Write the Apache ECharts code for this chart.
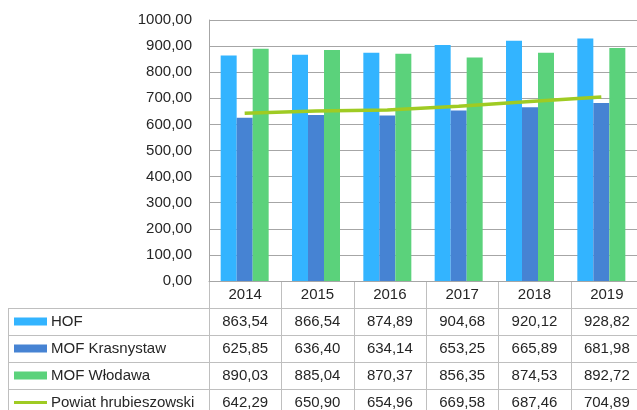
<!DOCTYPE html>
<html>
<head>
<meta charset="utf-8">
<script src="https://cdn.jsdelivr.net/npm/echarts@6/dist/echarts.min.js"></script>
<style>
  html, body { margin: 0; padding: 0; background: #fff; }
  #chart { width: 637px; height: 410px; }
</style>
</head>
<body>
<div id="chart"></div>
<script>
var years = ["2014", "2015", "2016", "2017", "2018", "2019"];
var hof = [863.54, 866.54, 874.89, 904.68, 920.12, 928.82];
var krasnystaw = [625.85, 636.40, 634.14, 653.25, 665.89, 681.98];
var wlodawa = [890.03, 885.04, 870.37, 856.35, 874.53, 892.72];
var powiat = [642.29, 650.90, 654.96, 669.58, 687.46, 704.89];
var seriesNames = ["HOF", "MOF Krasnystaw", "MOF Włodawa", "Powiat hrubieszowski"];
var colors = ["#33b4ff", "#4683d3", "#5bd27b", "#9fcb23"];

var fmt = function (v) { return v.toFixed(2).replace(".", ","); };
var font = "Liberation Sans, Arial, sans-serif";

// uklad wykresu i tabeli
var gLeft = 209, gTop = 20, gWidth = 434, gHeight = 261;
var colW = gWidth / years.length;
var rowH = 27;
var tableTop = gTop + gHeight;
var lineColor = "#bfbfbf";

var graphics = [];
// naglowek z latami
years.forEach(function (y, i) {
  graphics.push({
    type: "text", x: gLeft + colW * (i + 0.5), y: tableTop + rowH / 2,
    style: { text: y, font: "15px " + font, fill: "#262626", align: "center", verticalAlign: "middle" }
  });
});
var rows = [hof, krasnystaw, wlodawa, powiat];
rows.forEach(function (data, r) {
  var cy = tableTop + rowH * (r + 1) + rowH / 2;
  // klucz legendy
  if (r < 3) {
    graphics.push({ type: "rect", shape: { x: 14, y: cy - 4, width: 33, height: 8 }, style: { fill: colors[r] } });
  } else {
    graphics.push({ type: "line", shape: { x1: 14, y1: cy, x2: 47, y2: cy }, style: { stroke: colors[r], lineWidth: 3 } });
  }
  graphics.push({
    type: "text", x: 51, y: cy,
    style: { text: seriesNames[r], font: "15px " + font, fill: "#262626", verticalAlign: "middle" }
  });
  data.forEach(function (v, i) {
    graphics.push({
      type: "text", x: gLeft + colW * (i + 0.5), y: cy,
      style: { text: fmt(v), font: "15px " + font, fill: "#262626", align: "center", verticalAlign: "middle" }
    });
  });
});
// linie tabeli
for (var r = 1; r <= 5; r++) {
  var yy = tableTop + rowH * r + 0.5;
  graphics.push({ type: "line", shape: { x1: 8, y1: yy, x2: 640, y2: yy }, style: { stroke: lineColor, lineWidth: 1 } });
}
graphics.push({ type: "line", shape: { x1: 8.5, y1: tableTop + rowH, x2: 8.5, y2: 420 }, style: { stroke: lineColor, lineWidth: 1 } });
for (var c = 0; c <= years.length; c++) {
  var xx = Math.round(gLeft + colW * c) + 0.5;
  graphics.push({ type: "line", shape: { x1: xx, y1: tableTop, x2: xx, y2: 420 }, style: { stroke: lineColor, lineWidth: 1 } });
}

var chart = echarts.init(document.getElementById("chart"));
chart.setOption({
  animation: false,
  backgroundColor: "#fff",
  grid: { left: gLeft, top: gTop, width: gWidth, height: gHeight },
  xAxis: {
    type: "category",
    data: years,
    axisLine: { lineStyle: { color: "#a6a6a6" } },
    axisTick: { show: false },
    axisLabel: { show: false }
  },
  yAxis: {
    type: "value",
    min: 0, max: 1000, interval: 100,
    axisLine: { show: true, lineStyle: { color: "#a6a6a6" } },
    axisLabel: { formatter: fmt, fontSize: 15, fontFamily: font, color: "#262626", margin: 17 },
    splitLine: { lineStyle: { color: "#a6a6a6" } }
  },
  series: [
    { name: seriesNames[0], type: "bar", data: hof, barWidth: 16, barGap: "0%", itemStyle: { color: colors[0] } },
    { name: seriesNames[1], type: "bar", data: krasnystaw, barWidth: 16, barGap: "0%", itemStyle: { color: colors[1] } },
    { name: seriesNames[2], type: "bar", data: wlodawa, barWidth: 16, barGap: "0%", itemStyle: { color: colors[2] } },
    { name: seriesNames[3], type: "line", data: powiat, symbol: "none", lineStyle: { color: colors[3], width: 3.5 }, z: 5 }
  ],
  graphic: graphics
});
</script>
</body>
</html>
